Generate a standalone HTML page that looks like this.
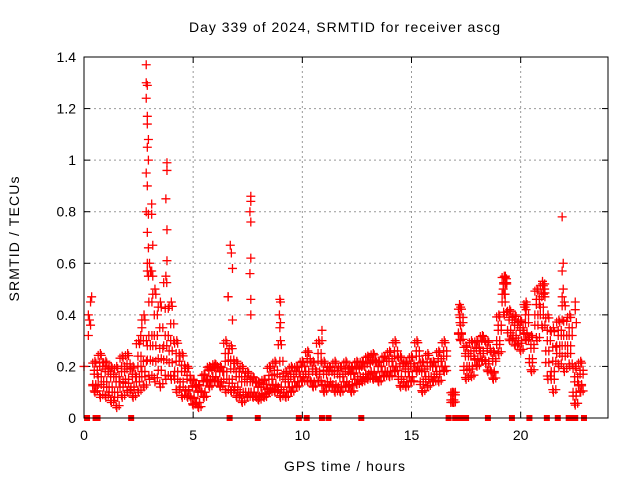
<!DOCTYPE html>
<html><head><meta charset="utf-8"><style>
html,body{margin:0;padding:0;background:#fff;}
svg{display:block;font-family:"Liberation Sans",sans-serif;}
</style></head><body>
<svg id="chart" width="640" height="480" viewBox="0 0 640 480" xmlns="http://www.w3.org/2000/svg">
<rect width="640" height="480" fill="#fff"/>
<text x="189" y="32" font-size="14" textLength="311" lengthAdjust="spacing">Day 339 of 2024, SRMTID for receiver ascg</text>
<text transform="translate(19,239) rotate(-90)" font-size="14" text-anchor="middle" textLength="125" lengthAdjust="spacing">SRMTID / TECUs</text>
<text x="284" y="471" font-size="14" textLength="121" lengthAdjust="spacing">GPS time / hours</text>
<g id="grid"></g><g id="ticks"></g><g id="marks"></g>
<rect x="84" y="57" width="524" height="361" fill="none" stroke="#000" stroke-width="1"/>
</svg>
<script>
const xTicks=[0,5,10,15,20];
const yTicks=[0,0.2,0.4,0.6,0.8,1,1.2,1.4];
const yTickLabels=["0","0.2","0.4","0.6","0.8","1","1.2","1.4"];
const bandHours=[0.5,0.75,1,1.25,1.5,1.75,2,2.25,2.5,2.75,3,3.25,3.5,3.75,4,4.25,4.5,4.75,5,5.25,5.5,5.75,6,6.25,6.5,6.75,7,7.25,7.5,7.75,8,8.25,8.5,8.75,9,9.25,9.5,9.75,10,10.25,10.5,10.75,11,11.25,11.5,11.75,12,12.25,12.5,12.75,13,13.25,13.5,13.75,14,14.25,14.5,14.75,15,15.25,15.5,15.75,16,16.25,16.5,16.9,17.25,17.5,17.75,18,18.25,18.5,18.75,19,19.25,19.5,19.75,20,20.25,20.5,20.75,21,21.25,21.5,21.75,22,22.25,22.5,22.75];
const lowVals=[.1,.08,.08,.06,.04,.08,.1,.08,.1,.12,.15,.14,.12,.15,.15,.1,.08,.08,.05,.04,.08,.12,.14,.12,.1,.1,.08,.06,.08,.08,.07,.08,.1,.1,.08,.08,.1,.12,.14,.14,.12,.14,.1,.12,.1,.1,.12,.1,.13,.14,.15,.15,.14,.16,.16,.18,.12,.12,.14,.18,.1,.12,.14,.14,.18,.06,.3,.15,.16,.2,.22,.18,.15,.25,.4,.3,.28,.26,.3,.18,.3,.35,.15,.1,.2,.18,.2,.05,.1];
const midVals=[.15,.18,.16,.14,.12,.16,.17,.14,.18,.2,.3,.3,.25,.3,.28,.2,.16,.13,.1,.08,.12,.17,.18,.16,.2,.17,.14,.12,.12,.12,.1,.11,.13,.15,.14,.12,.14,.16,.18,.2,.16,.2,.15,.16,.15,.14,.16,.15,.17,.18,.19,.2,.18,.2,.2,.22,.18,.16,.18,.22,.16,.18,.18,.2,.22,.08,.35,.22,.22,.25,.28,.24,.2,.32,.5,.36,.34,.32,.35,.25,.42,.45,.28,.2,.3,.3,.3,.12,.15];
const highVals=[.22,.25,.22,.2,.2,.24,.25,.2,.3,.4,.6,.5,.45,.55,.45,.3,.25,.2,.15,.13,.17,.2,.21,.2,.3,.28,.22,.2,.18,.16,.14,.15,.2,.22,.3,.18,.2,.2,.22,.26,.22,.3,.22,.2,.22,.2,.22,.2,.22,.22,.24,.25,.22,.24,.26,.3,.24,.22,.24,.3,.22,.25,.22,.26,.3,.1,.43,.28,.3,.3,.32,.3,.26,.4,.55,.42,.4,.38,.45,.32,.5,.52,.4,.35,.38,.45,.4,.2,.22];
const spikeHours=[0,0.2,0.25,0.3,0.35,0.3,0.2,2.6,2.6,2.65,2.85,2.85,2.9,2.85,2.9,2.9,2.95,2.9,2.95,2.85,2.9,2.85,2.95,2.9,2.95,2.9,2.95,3.1,3.1,3.15,3.1,3.15,3.8,3.8,3.75,3.8,3.8,6.6,6.7,6.75,6.8,6.8,6.6,7.64,7.64,7.6,7.64,7.64,7.6,7.64,7.64,8.97,9.0,8.95,9.0,8.97,10.9,10.9,17.2,17.2,17.25,19.2,19.3,19.35,19.3,19.25,20.2,20.25,21.0,21.1,21.1,21.05,21.9,21.95,21.9,21.95,21.9,21.9,22.5,22.5,22.55];
const spikeVals=[.2,.32,.38,.45,.47,.36,.4,.3,.32,.35,1.37,1.3,1.29,1.24,1.17,1.14,1.08,1.05,1.0,.95,.9,.8,.79,.72,.66,.6,.55,.83,.79,.67,.57,.55,.99,.96,.85,.73,.61,.47,.67,.64,.58,.38,.47,.86,.84,.8,.76,.62,.56,.46,.4,.46,.45,.4,.37,.35,.34,.3,.44,.4,.36,.5,.55,.54,.52,.48,.43,.42,.53,.52,.5,.48,.78,.6,.57,.5,.47,.38,.45,.42,.37];
const zeroHours=[0.14,0.53,0.62,2.16,6.67,7.96,9.84,10.2,10.9,11.2,12.7,16.7,17.0,17.15,17.3,17.5,18.5,19.6,20.4,21.2,21.7,22.2,22.4,22.5,22.9];

const NS="http://www.w3.org/2000/svg";
const X0=84,X1=608,Y0=418,Y1=57;
function xs(h){return X0+h*(X1-X0)/24;}
function ys(v){return Y0-v*(Y0-Y1)/1.4;}
function mk(tag,attrs,parent){const e=document.createElementNS(NS,tag);for(const k in attrs)e.setAttribute(k,attrs[k]);parent.appendChild(e);return e;}
const grid=document.getElementById('grid'),ticks=document.getElementById('ticks'),marks=document.getElementById('marks');
yTicks.forEach((v,i)=>{
  const y=ys(v);
  if(i>0&&i<yTicks.length-1){const g=mk('line',{x1:X0,x2:X1,y1:y,y2:y,stroke:'#999','stroke-dasharray':'2,3'},grid);
  
  }
  mk('line',{x1:X0,x2:X0+6,y1:y,y2:y,stroke:'#000'},ticks);
  mk('line',{x1:X1,x2:X1-6,y1:y,y2:y,stroke:'#000'},ticks);
  const t=mk('text',{x:X0-8,y:y+5,'font-size':'14','text-anchor':'end'},ticks);
  t.textContent=yTickLabels[i];
  
  
});
xTicks.forEach(h=>{
  const x=xs(h);
  if(h>0){const g=mk('line',{x1:x,x2:x,y1:Y0,y2:Y1,stroke:'#999','stroke-dasharray':'2,3'},grid);
  
  }
  mk('line',{x1:x,x2:x,y1:Y0,y2:Y0-6,stroke:'#000'},ticks);
  mk('line',{x1:x,x2:x,y1:Y1,y2:Y1+6,stroke:'#000'},ticks);
  const t=mk('text',{x:x,y:Y0+22,'font-size':'14','text-anchor':'middle'},ticks);
  t.textContent=String(h);
  
  
});
function cross(h,v,c){
  const x=xs(h),y=ys(v);
  const p=mk('path',{d:`M${x-4.5},${y}h9M${x},${y-4.5}v9`,stroke:c||'#f00','stroke-width':'1.3',fill:'none'},marks);
  
  
}
// dense band: each band sample spans its low..high range as a column of crosses
const dh=[-0.1,-0.03,0.04,0.11];
bandHours.forEach((h,i)=>{
  const lo=lowVals[i],mid=midVals[i],hi=highVals[i];
  dh.forEach((d,j)=>{
    cross(h+d,lo+(mid-lo)*(j%2?0.1:0.5));
    cross(h+d,mid+(j%2?0.02:-0.02));
    cross(h+d,mid+(hi-mid)*(j%2?0.5:0.9));
  });
  cross(h,lo);cross(h,hi);
});
spikeHours.forEach((h,i)=>cross(h,spikeVals[i]));
zeroHours.forEach(h=>{
  const r=mk('rect',{x:xs(h)-3,y:Y0-3,width:6,height:6,fill:'#f00'},marks);
  
  
});
</script>
</body></html>
